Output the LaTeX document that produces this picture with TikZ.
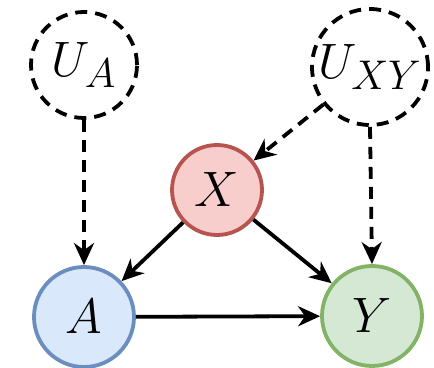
\documentclass[tikz,border=0pt]{standalone}
\usepackage{tikz}
\usetikzlibrary{shapes,calc,arrows.meta}

\definecolor{xfill}{HTML}{F8CECC}
\definecolor{xline}{HTML}{B85450}
\definecolor{afill}{HTML}{DAE8FC}
\definecolor{aline}{HTML}{6C8EBF}
\definecolor{yfill}{HTML}{D5E8D4}
\definecolor{yline}{HTML}{82B366}

\tikzset{
  var/.style={draw,circle,line width=1.9pt,minimum size=50pt,inner sep=0pt,font=\Huge},
  latent/.style={var,dashed,dash pattern=on 6pt off 4pt,minimum size=53pt},
  cause/.style={-{Stealth[length=11pt,width=10pt,inset=3.5pt]},line width=1.9pt},
  hidden/.style={cause,dash pattern=on 6pt off 4pt}
}

\begin{document}
\begin{tikzpicture}[x=0.5pt,y=0.5pt]
  \useasboundingbox (0,0) rectangle (434,368);
  \node[latent] (UA) at (84,303) {$U_A$};
  \node[latent,minimum size=58pt] (UXY) at ($(UA)+(286,-2)$) {$U_{XY}$};
  \node[var,fill=xfill,draw=xline,minimum size=45pt] (X) at ($(UA)+(133,-125)$) {$X$};
  \node[var,fill=afill,draw=aline] (A) at ($(UA)+(0,-252)$) {$A$};
  \node[var,fill=yfill,draw=yline] (Y) at ($(A)+(288,1)$) {$Y$};
  \path[hidden] (UA) edge (A);
  \path[hidden] (UXY) edge (X);
  \path[hidden] (UXY.south) edge (Y.north);
  \path[cause] (X) edge (A);
  \path[cause] (X) edge (Y);
  \path[cause] (A) edge (Y);
\end{tikzpicture}
\end{document}
